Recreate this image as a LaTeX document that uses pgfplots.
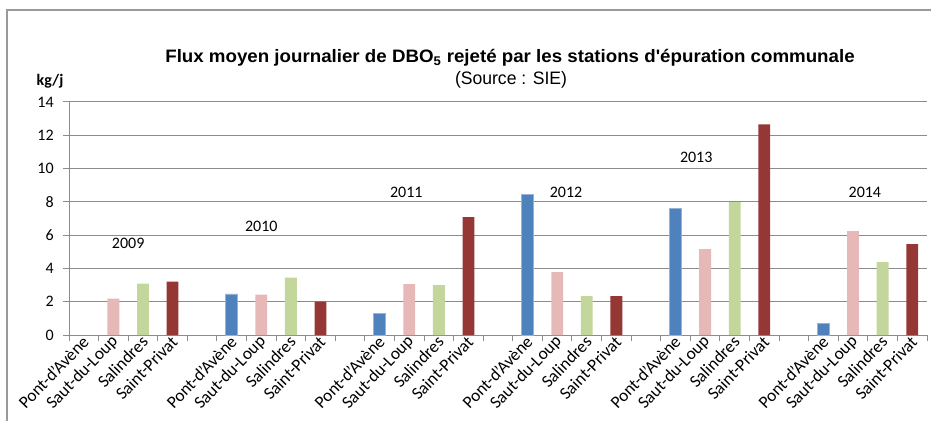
\documentclass[border=0pt]{standalone}
\usepackage{pgfplots}
\pgfplotsset{compat=1.18}
\usepackage{fontspec}
\setmainfont{Carlito}
\newfontfamily\arial{Liberation Sans}
\usepackage{graphicx}
\definecolor{cblue}{HTML}{4F81BD}
\definecolor{cpink}{HTML}{E6B9B8}
\definecolor{cgreen}{HTML}{C3D69B}
\definecolor{cred}{HTML}{953735}
\definecolor{gridc}{HTML}{8C8C8C}
\definecolor{framec}{HTML}{9A9A9A}
\begin{document}
\begin{tikzpicture}[x=0.75pt,y=0.75pt]
\useasboundingbox (0,0) rectangle (931,421);
\draw[framec, line width=1.1pt] (7,0) -- (7,411) -- (931,411);
\node[font=\arial\bfseries\fontsize{13.5}{16}\selectfont, inner sep=0pt] at (510,363) {\resizebox{517pt}{\height}{Flux moyen journalier de DBO\textsubscript{5} rejeté par les stations d'épuration communale}};
\node[font=\arial\fontsize{13.5}{16}\selectfont, inner sep=0pt] at (511,341) {\resizebox{84pt}{\height}{(Source : SIE)}};
\node[font=\bfseries\fontsize{12}{14}\selectfont, inner sep=0pt] at (50,340) {kg/j};
\begin{axis}[
  at={(51.75pt,64.5pt)}, anchor=south west,
  width=643.5pt, height=174.75pt, scale only axis,
  xmin=-0.5, xmax=28.5, ymin=0, ymax=14,
  ytick={0,2,...,14},
  minor ytick={0,2,...,14},
  axis x line*=bottom, axis y line*=left,
  ymajorgrids, grid style={gridc, line width=0.75pt},
  axis line style={gridc, line width=0.75pt},
  tick style={gridc, line width=0.75pt},
  tick align=outside,
  major tick length=0pt,
  minor tick length=4.5pt,
  xtick={0,1,2,3,5,6,7,8,10,11,12,13,15,16,17,18,20,21,22,23,25,26,27,28},
  xticklabels={Pont-d'Avène,Saut-du-Loup,Salindres,Saint-Privat,Pont-d'Avène,Saut-du-Loup,Salindres,Saint-Privat,Pont-d'Avène,Saut-du-Loup,Salindres,Saint-Privat,Pont-d'Avène,Saut-du-Loup,Salindres,Saint-Privat,Pont-d'Avène,Saut-du-Loup,Salindres,Saint-Privat,Pont-d'Avène,Saut-du-Loup,Salindres,Saint-Privat},
  minor xtick={-0.5,0.5,...,28.5},
  x tick label style={rotate=46, anchor=east, font=\fontsize{13}{15}\selectfont, inner sep=1pt, yshift=-3pt},
  y tick label style={font=\fontsize{12}{14}\selectfont, /pgf/number format/assume math mode=true, xshift=-8pt},
  ybar, bar width=0.4, bar shift=0pt,
  clip=false,
]
\addplot[fill=cblue, draw=cblue!60!white, line width=0.5pt] coordinates {(5,2.47) (10,1.32) (15,8.46) (20,7.62) (25,0.68)};
\addplot[fill=cpink, draw=none] coordinates {(1,2.18) (6,2.42) (11,3.06) (16,3.78) (21,5.16) (26,6.24)};
\addplot[fill=cgreen, draw=none] coordinates {(2,3.09) (7,3.45) (12,3.0) (17,2.34) (22,7.98) (27,4.38)};
\addplot[fill=cred, draw=none] coordinates {(3,3.2) (8,2.0) (13,7.08) (18,2.34) (23,12.66) (28,5.46)};
\node[font=\fontsize{12}{14}\selectfont] at (axis cs:1.5,5.5) {2009};
\node[font=\fontsize{12}{14}\selectfont] at (axis cs:6.0,6.55) {2010};
\node[font=\fontsize{12}{14}\selectfont] at (axis cs:10.9,8.6) {2011};
\node[font=\fontsize{12}{14}\selectfont] at (axis cs:16.3,8.55) {2012};
\node[font=\fontsize{12}{14}\selectfont] at (axis cs:20.7,10.66) {2013};
\node[font=\fontsize{12}{14}\selectfont] at (axis cs:26.4,8.6) {2014};
\end{axis}
\end{tikzpicture}
\end{document}
